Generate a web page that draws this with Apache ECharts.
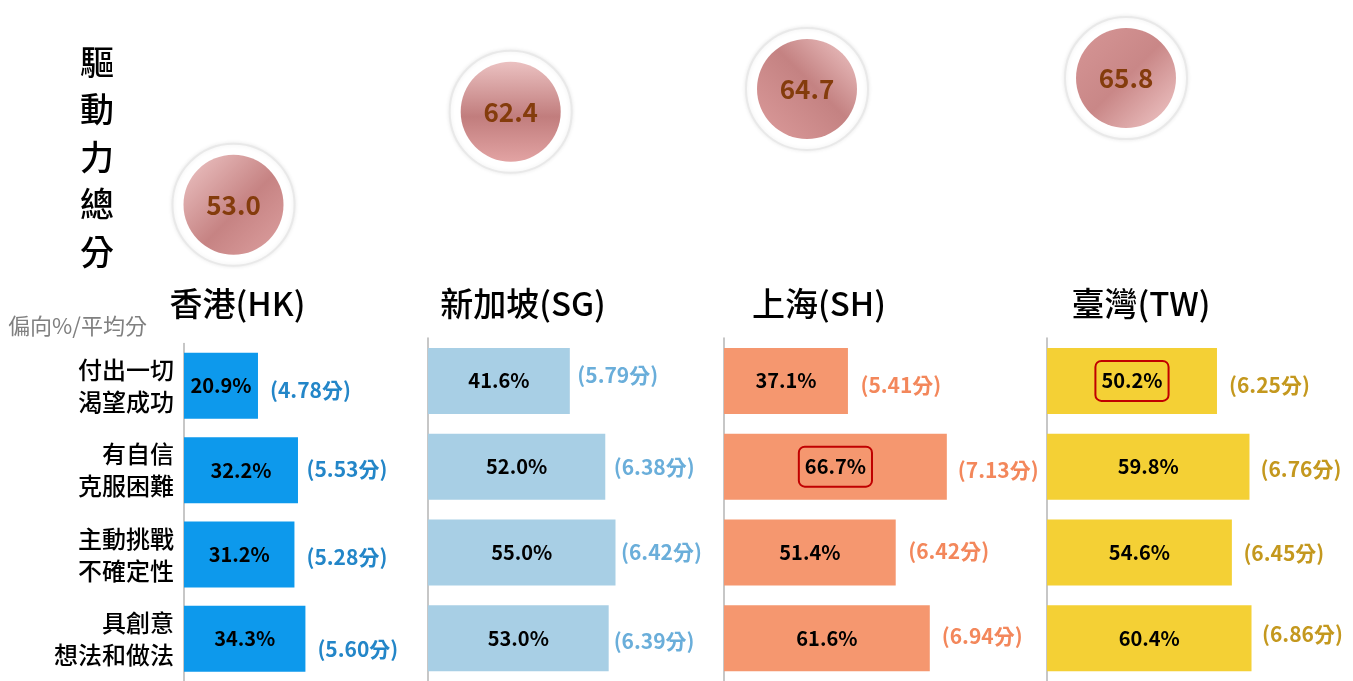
<!DOCTYPE html>
<html>
<head>
<meta charset="utf-8">
<script src="https://cdn.jsdelivr.net/npm/echarts@6/dist/echarts.min.js"></script>
<style>
html,body{margin:0;padding:0;background:#fff;}
#main{width:1353px;height:681px;}
</style>
</head>
<body>
<div id="main"></div>
<script>
// ---------------- data ----------------
const regions = ['香港(HK)', '新加坡(SG)', '上海(SH)', '臺灣(TW)'];
const categories = ['付出一切\n渴望成功', '有自信\n克服困難', '主動挑戰\n不確定性', '具創意\n想法和做法'];
const pctHK = [20.9, 32.2, 31.2, 34.3];
const pctSG = [41.6, 52.0, 55.0, 53.0];
const pctSH = [37.1, 66.7, 51.4, 61.6];
const pctTW = [50.2, 59.8, 54.6, 60.4];
const scoreHK = [4.78, 5.53, 5.28, 5.60];
const scoreSG = [5.79, 6.38, 6.42, 6.39];
const scoreSH = [5.41, 7.13, 6.42, 6.94];
const scoreTW = [6.25, 6.76, 6.45, 6.86];
const totalScores = [53.0, 62.4, 64.7, 65.8];
const titleText = '驅動力總分';
const unitText = '偏向%/平均分';
// highlighted (boxed) values: [panel index, category index]
const boxed = [[2, 1], [3, 0]];

// ---------------- styling / layout ----------------
const pcts = [pctHK, pctSG, pctSH, pctTW];
const scores = [scoreHK, scoreSG, scoreSH, scoreTW];
const barColors = ['#0D99EC', '#A8CFE5', '#F5976F', '#F4D035'];
const scoreColors = ['#2386C8', '#6AAEDA', '#F3875B', '#C4981E'];
const barGrids = [
  {left: 184, top: 343.6, width: 300, height: 347},
  {left: 428, top: 338, width: 300, height: 347},
  {left: 724, top: 338, width: 300, height: 347},
  {left: 1047, top: 338, width: 300, height: 347}
];
// axis max per panel (each panel of the original uses its own bar scale)
const axisMax = [84.75, 88.0, 89.8, 88.6];
const scoreOffsets = [
  [[12, 4], [8.5, -1.5], [12, 3], [12, 9.7]],
  [[7.5, -5.5], [8.5, 0], [5.5, 0], [5, 2.5]],
  [[12.5, 3.7], [11, 3], [12.5, -1.5], [12, -2.5]],
  [[12, 3.7], [11, 2], [11.5, 0.4], [10.5, -3.7]]
];
const bubbleCenterX = [233.5, 510.7, 807, 1126];
const titleCenterX = [237.5, 523, 819, 1141];
const G = echarts.graphic.LinearGradient;
const bubbleFills = [
  new G(0, 0, 1, 1, [{offset: 0, color: '#EEC6C6'}, {offset: 0.55, color: '#C68383'}, {offset: 1, color: '#DDA0A0'}]),
  new G(0, 0, 0, 1, [{offset: 0, color: '#EBC1C1'}, {offset: 0.55, color: '#C17D7D'}, {offset: 1, color: '#E2A3A3'}]),
  new G(1, 0, 0, 1, [{offset: 0, color: '#EFC7C7'}, {offset: 0.45, color: '#C48282'}, {offset: 1, color: '#DC9B9B'}]),
  new G(0, 0, 1, 1, [{offset: 0, color: '#D69696'}, {offset: 0.5, color: '#C98787'}, {offset: 1, color: '#F1C9C9'}])
];
const FONT = '"Noto Sans CJK TC", "Noto Sans", sans-serif';

const grid = [], xAxis = [], yAxis = [], series = [];

barGrids.forEach((g, i) => {
  grid.push(Object.assign({containLabel: false}, g));
  xAxis.push({type: 'value', gridIndex: i, min: 0, max: axisMax[i], show: false});
  yAxis.push({
    type: 'category', gridIndex: i, data: categories, inverse: true,
    axisLine: {show: true, lineStyle: {color: '#B4B4B4', width: 1.5}},
    axisTick: {show: false}, splitLine: {show: false},
    axisLabel: {
      show: i === 0, color: '#000', fontSize: 24, lineHeight: 32, fontWeight: 500,
      fontFamily: FONT, margin: 10, align: 'right'
    }
  });
  series.push({
    type: 'bar', xAxisIndex: i, yAxisIndex: i, barWidth: 66, z: 2,
    itemStyle: {color: barColors[i]},
    data: pcts[i].map((v, k) => {
      const isBoxed = boxed.some(b => b[0] === i && b[1] === k);
      const item = {value: v};
      if (isBoxed) {
        item.label = {borderColor: '#C00000', borderWidth: 2, borderRadius: 6, padding: [11, 6, 9, 6]};
      }
      return item;
    }),
    label: {
      show: true, position: 'inside', color: '#000', fontSize: 20, fontWeight: 'bold',
      fontFamily: FONT, formatter: p => p.value.toFixed(1) + '%'
    }
  });
  series.push({
    type: 'bar', xAxisIndex: i, yAxisIndex: i, barWidth: 66, barGap: '-100%', z: 3,
    itemStyle: {color: 'rgba(0,0,0,0)'}, silent: true,
    data: pcts[i].map((v, k) => ({value: v, label: {offset: scoreOffsets[i][k]}})),
    label: {
      show: true, position: 'right', distance: 0, color: scoreColors[i], fontSize: 21,
      fontWeight: 'bold', fontFamily: FONT,
      formatter: p => '(' + scores[i][p.dataIndex].toFixed(2) + '分)'
    }
  });
});

// bubbles for total scores: one small grid per region, shared value scale
totalScores.forEach((v, i) => {
  const gi = 4 + i;
  grid.push({left: bubbleCenterX[i] - 62, width: 124, top: 36.5, height: 247.4});
  xAxis.push({type: 'category', gridIndex: gi, data: [regions[i]], show: false});
  yAxis.push({type: 'value', gridIndex: gi, min: 45, max: 70, show: false});
  series.push({
    type: 'scatter', xAxisIndex: gi, yAxisIndex: gi, symbolSize: 122, z: 1, silent: true,
    itemStyle: {color: '#FFFFFF', borderColor: '#E9E9E9', borderWidth: 2,
      shadowBlur: 4, shadowColor: 'rgba(0,0,0,0.08)', opacity: 1},
    data: [v]
  });
  series.push({
    type: 'scatter', xAxisIndex: gi, yAxisIndex: gi, symbolSize: 100, z: 2, silent: true,
    itemStyle: {color: bubbleFills[i], opacity: 1},
    label: {show: true, position: 'inside', color: '#843C0C', fontSize: 26, fontWeight: 'bold',
      fontFamily: FONT, formatter: p => p.value.toFixed(1)},
    data: [v]
  });
});

const graphic = [];
regions.forEach((r, i) => {
  graphic.push({type: 'text', x: titleCenterX[i], y: 303,
    style: {text: r, fill: '#000', font: '500 33px ' + FONT, textAlign: 'center', textVerticalAlign: 'middle'}});
});
graphic.push({type: 'text', x: 97, y: 38,
  style: {text: titleText.split('').join('\n'), fill: '#000', font: '500 34px ' + FONT,
    lineHeight: 47.5, textAlign: 'center', textVerticalAlign: 'top'}});
graphic.push({type: 'text', x: 8, y: 326,
  style: {text: unitText, fill: '#808080', font: 'normal 22px ' + FONT, textAlign: 'left', textVerticalAlign: 'middle'}});

const chart = echarts.init(document.getElementById('main'), null, {renderer: 'canvas'});
chart.setOption({
  animation: false,
  backgroundColor: '#fff',
  grid, xAxis, yAxis, series, graphic
});
</script>
</body>
</html>
